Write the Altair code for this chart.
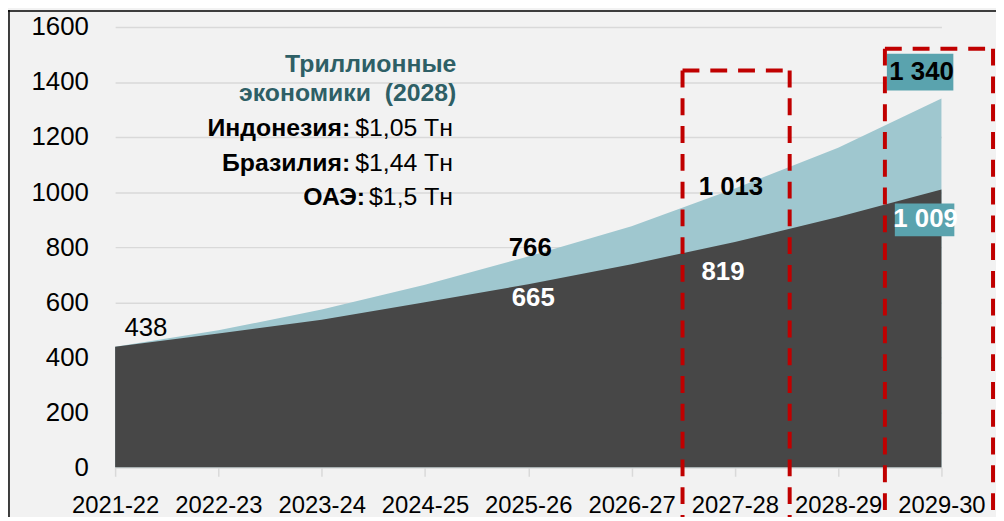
import altair as alt
import pandas as pd

# ---------------- data ----------------
years = ["2021-22", "2022-23", "2023-24", "2024-25", "2025-26",
         "2026-27", "2027-28", "2028-29", "2029-30"]
dark_values = [438, 486, 536, 600, 665, 738, 819, 909, 1009]
light_values = [438, 498, 573, 663, 766, 876, 1013, 1161, 1340]
y_ticks = [0, 200, 400, 600, 800, 1000, 1200, 1400, 1600]

note_title = ["Триллионные", "экономики  (2028)"]
note_countries = ["Индонезия:", "Бразилия:", "ОАЭ:"]
note_values = ["$1,05 Тн", "$1,44 Тн", "$1,5 Тн"]

# ---------------- style ----------------
W, H = 833, 444
FONT = "Liberation Sans"
DARK = "#474747"
LIGHT = "#9fc7cf"
TEAL_BOX = "#5aa3ae"
TEAL_TEXT = "#2e5f66"
RED = "#c00000"
GRID = "#d9d9d9"

df = pd.DataFrame({"year": years, "dark": dark_values, "light": light_values})
one = pd.DataFrame({"k": [0]})

x_scale = alt.Scale(type="point", padding=0, domain=years)
x_axis = alt.Axis(title=None, labelAngle=0, labelFontSize=24, labelFont=FONT,
                  labelColor="black", domainColor=GRID, domainWidth=1.5,
                  tickColor=GRID, tickSize=9, tickWidth=1.5, labelPadding=18,
                  grid=False)
y_scale = alt.Scale(domain=[0, 1600], nice=False)
y_axis = alt.Axis(title=None, values=y_ticks, format="d", labelFontSize=26,
                  labelFont=FONT, labelColor="black", labelPadding=27,
                  ticks=False, domain=False, grid=True, gridColor=GRID,
                  gridWidth=1.5)


def xe():
    return alt.X("year:N", sort=years, scale=x_scale, axis=x_axis)


def ye(field):
    return alt.Y(f"{field}:Q", scale=y_scale, axis=y_axis)


light = alt.Chart(df).mark_area(color=LIGHT, opacity=1).encode(x=xe(), y=ye("light"))
dark = alt.Chart(df).mark_area(color=DARK, opacity=1).encode(x=xe(), y=ye("dark"))

layers = [light, dark]


def fmt(v):
    return f"{v:,}".replace(",", " ")


def value_label(series, year, dx, dy, color, bold=True, size=26):
    vals = dark_values if series == "dark" else light_values
    v = vals[years.index(year)]
    d = pd.DataFrame({"year": [year], "v": [v], "t": [fmt(v)]})
    return alt.Chart(d).mark_text(
        font=FONT, fontSize=size, fontWeight="bold" if bold else "normal",
        color=color, dx=dx, dy=dy, align="center", baseline="middle"
    ).encode(x=xe(), y=ye("v"), text="t:N")


def box(x1, x2, y1, y2):
    return alt.Chart(one).mark_rect(color=TEAL_BOX).encode(
        x=alt.value(x1), x2=alt.value(x2), y=alt.value(y1), y2=alt.value(y2))


def dashed(x1, x2, y1, y2):
    return alt.Chart(one).mark_rule(color=RED, strokeWidth=4, strokeDash=[17, 11]).encode(
        x=alt.value(x1), x2=alt.value(x2), y=alt.value(y1), y2=alt.value(y2))


def note(text, xpos, ypos, align, bold, color="black", size=25):
    text = text.replace("  ", "\u00a0 ")
    return alt.Chart(one).mark_text(
        font=FONT, fontSize=size, fontWeight="bold" if bold else "normal",
        color=color, align=align, baseline="middle"
    ).encode(x=alt.value(xpos), y=alt.value(ypos), text=alt.value(text))


# teal boxes behind last-point labels
layers += [box(778, 845, 27, 64), box(786, 846, 178, 211)]

# value labels
layers += [
    value_label("light", "2021-22", 31, -19, "black", bold=False),
    value_label("light", "2025-26", 2, -8, "black"),
    value_label("dark", "2025-26", 5, 14, "white"),
    value_label("light", "2027-28", -4, -1, "black"),
    value_label("dark", "2027-28", -12, 30, "white"),
    value_label("light", "2029-30", -20, -27, "black"),
    value_label("dark", "2029-30", -16, 30, "white"),
]

# annotation block
layers += [
    note(note_title[0], 344, 37, "right", True, TEAL_TEXT),
    note(note_title[1], 344, 67, "right", True, TEAL_TEXT),
]
row_y = [102, 137, 172]
bold_right = [237, 237, 252]
norm_left = [242, 242, 256]
for c, v, yy, br, nl in zip(note_countries, note_values, row_y, bold_right, norm_left):
    layers += [note(c, br, yy, "right", True), note(v, nl, yy, "left", False)]

# red dashed frames
BOTTOM = 500
layers += [
    dashed(572, 680, 44, 44), dashed(572, 572, 44, BOTTOM), dashed(680, 680, 44, BOTTOM),
    dashed(776, 885, 22, 22), dashed(776, 776, 22, BOTTOM), dashed(885, 885, 22, BOTTOM),
]

# outer frame lines (top and left)
layers += [
    alt.Chart(one).mark_rule(color="black", strokeWidth=1.5).encode(
        x=alt.value(-108), x2=alt.value(890), y=alt.value(-16), y2=alt.value(-16)),
    alt.Chart(one).mark_rule(color="black", strokeWidth=1.5).encode(
        x=alt.value(-107), x2=alt.value(-107), y=alt.value(-17), y2=alt.value(500)),
]

chart = alt.layer(*layers).properties(
    width=W, height=H,
    autosize=alt.AutoSizeParams(type="none"),
    padding={"left": 108, "top": 17, "right": 55, "bottom": 48},
).configure(background="#f2f2f2").configure_view(stroke=None)

chart.save("out.html", embed_options={"renderer": "svg", "actions": False})
